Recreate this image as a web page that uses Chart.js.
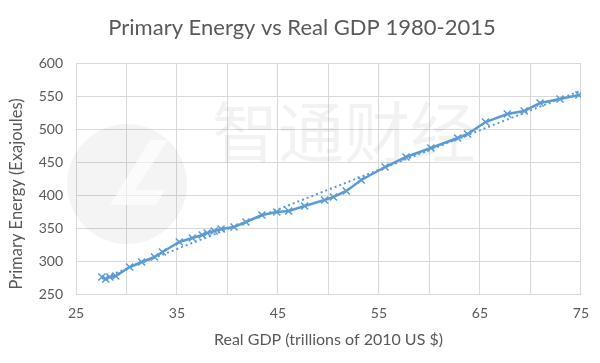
<!DOCTYPE html>
<html>
<head>
<meta charset="utf-8">
<script src="https://cdn.jsdelivr.net/npm/chart.js@4"></script>
<style>
  html, body { margin: 0; padding: 0; background: #ffffff; }
  #wrap { width: 600px; height: 363px; }
</style>
</head>
<body>
<div id="wrap"><canvas id="c" width="600" height="363"></canvas></div>
<script>
// Real GDP (trillions of 2010 US $)
const gdp = [27.56, 27.95, 28.35, 28.94, 30.31, 31.50, 32.78, 33.56, 35.24, 36.52,
             37.50, 37.99, 38.68, 39.37, 40.65, 41.83, 43.41, 44.88, 46.06, 47.64,
             49.61, 50.49, 51.77, 53.25, 55.61, 57.68, 60.14, 62.80, 63.78, 65.55,
             67.72, 69.39, 70.96, 72.93, 74.80];
// Primary Energy (Exajoules)
const energy = [275.8, 272.7, 275.8, 277.3, 290.9, 298.5, 306.1, 313.6, 328.8, 334.8,
                339.4, 342.4, 345.5, 348.5, 351.5, 359.1, 369.7, 374.2, 375.8, 383.3,
                392.4, 397.0, 406.1, 422.7, 442.4, 457.6, 471.2, 486.4, 492.4, 510.6,
                522.7, 527.3, 539.4, 545.5, 551.5];
const xTickLabels = [25, 35, 45, 55, 65, 75];
const yTickLabels = [250, 300, 350, 400, 450, 500, 550, 600];
const titleText = 'Primary Energy vs Real GDP 1980-2015';
const xTitle = 'Real GDP (trillions of 2010 US $)';
const yTitle = 'Primary Energy (Exajoules)';
const watermarkText = '智通财经';

// linear trendline (least squares over the series)
const n = gdp.length;
const mx = gdp.reduce((a, b) => a + b, 0) / n;
const my = energy.reduce((a, b) => a + b, 0) / n;
let sxy = 0, sxx = 0;
for (let i = 0; i < n; i++) { sxy += (gdp[i] - mx) * (energy[i] - my); sxx += (gdp[i] - mx) ** 2; }
const slope = sxy / sxx, icpt = my - slope * mx;
const xMin = Math.min(...gdp), xMax = Math.max(...gdp);
const trend = [{ x: xMin, y: icpt + slope * xMin }, { x: xMax, y: icpt + slope * xMax }];

const textColor = '#595959';
const gridColor = '#d9d9d9';
const blue = '#5b9bd5';

const watermark = {
  id: 'watermark',
  beforeDatasetsDraw(chart) {
    const ctx = chart.ctx;
    ctx.save();
    ctx.fillStyle = 'rgba(0,0,0,0.045)';
    ctx.beginPath();
    ctx.arc(127, 184, 60, 0, Math.PI * 2);
    ctx.fill();
    ctx.fillStyle = 'rgba(255,255,255,0.6)';
    ctx.beginPath();
    ctx.moveTo(150, 140); ctx.lineTo(110, 205); ctx.lineTo(155, 205); ctx.lineTo(165, 190); ctx.lineTo(135, 190);
    ctx.lineTo(168, 140); ctx.closePath();
    ctx.fill();
    ctx.fillStyle = 'rgba(0,0,0,0.05)';
    ctx.font = '66px "Noto Sans CJK SC"';
    ctx.textBaseline = 'middle';
    ctx.textAlign = 'left';
    ctx.fillText(watermarkText, 212, 132);
    ctx.restore();
  }
};

// Centre the chart title on the full canvas width (Excel-like), and place the y-axis title
const layoutFix = {
  id: 'layoutFix',
  afterLayout(chart) {
    const tb = chart.titleBlock;
    if (tb) { tb.right += 20; tb.width += 20; }
  },
  afterDraw(chart) {
    const ctx = chart.ctx;
    ctx.save();
    ctx.translate(17, 194);
    ctx.rotate(-Math.PI / 2);
    ctx.fillStyle = textColor;
    ctx.font = '16.5px Lato';
    ctx.textAlign = 'center';
    ctx.textBaseline = 'middle';
    ctx.fillText(yTitle, 0, 0);
    ctx.restore();
  }
};

new Chart(document.getElementById('c'), {
  type: 'scatter',
  data: {
    datasets: [
      {
        data: gdp.map((x, i) => ({ x, y: energy[i] })),
        showLine: true,
        borderColor: blue,
        backgroundColor: blue,
        borderWidth: 2.5,
        pointStyle: 'crossRot',
        pointRadius: 5,
        pointBorderWidth: 1.5,
        pointBorderColor: blue,
        tension: 0
      },
      {
        data: trend,
        showLine: true,
        borderColor: blue,
        borderWidth: 2,
        borderDash: [2, 3],
        pointRadius: 0,
        tension: 0
      }
    ]
  },
  plugins: [watermark, layoutFix],
  options: {
    responsive: false,
    animation: false,
    layout: { padding: { top: 0, right: 16, bottom: 0, left: 0 } },
    plugins: {
      legend: { display: false },
      tooltip: { enabled: false },
      title: {
        display: true,
        text: titleText,
        color: textColor,
        font: { family: 'Lato', size: 22, weight: 'normal', lineHeight: 1.2 },
        padding: { top: 15, bottom: 21.6 }
      }
    },
    scales: {
      x: {
        type: 'linear',
        min: 25, max: 75,
        ticks: {
          stepSize: 5,
          color: textColor,
          font: { family: 'Lato', size: 14 },
          padding: 11,
          maxRotation: 0,
          autoSkip: false,
          callback: (v) => xTickLabels.includes(v) ? String(v) : ''
        },
        grid: { color: gridColor, lineWidth: 1, drawTicks: false },
        border: { color: gridColor },
        title: {
          display: true, text: xTitle, color: textColor,
          font: { family: 'Lato', size: 16, lineHeight: 1.2 },
          padding: { top: 0, bottom: 13.5 }
        },
        afterFit: (s) => { s.height = 69; }
      },
      y: {
        type: 'linear',
        min: 250, max: 600,
        ticks: {
          stepSize: 50,
          color: textColor,
          font: { family: 'Lato', size: 14 },
          padding: 13,
          callback: (v) => yTickLabels.includes(v) ? String(v) : ''
        },
        grid: { color: gridColor, lineWidth: 1, drawTicks: false },
        border: { color: gridColor },
        title: { display: false },
        afterFit: (s) => { s.width = 76; }
      }
    }
  }
});
</script>
</body>
</html>
